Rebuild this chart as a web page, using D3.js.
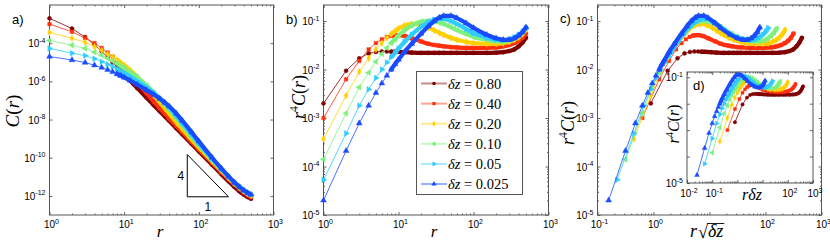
<!DOCTYPE html>
<html>
<head>
<meta charset="utf-8">
<script src="https://cdn.jsdelivr.net/npm/d3@7"></script>
<style>
  body { margin: 0; background: #fff; }
  svg { display: block; }
  .tick-lbl { font-family: "Liberation Sans", Arial, sans-serif; font-size: 10px; fill: #000; }
  .math { font-family: "Liberation Serif", "DejaVu Serif", serif; fill: #000; }
  .panel-lbl { font-family: "Liberation Sans", Arial, sans-serif; font-size: 13px; fill: #000; }
</style>
</head>
<body>
<svg id="fig" width="830" height="244"></svg>
<script>
/************************* Data *************************/
const DZ        = [0.80, 0.40, 0.20, 0.10, 0.05, 0.025];
const DZ_LABELS = ["0.80", "0.40", "0.20", "0.10", "0.05", "0.025"];
const COLORS    = ["#800000", "#ff3010", "#ffd000", "#7ff07f", "#30ccff", "#1a4cff"];
const MARKERS   = ["circle", "square", "diamond", "left", "right", "up"];

const R = [1, 2, 3, 4, 5, 6, 7, 8, 9, 10, 12, 15, 20, 25, 30, 35, 40, 50, 60, 80,
           100, 150, 200, 250, 300, 350, 400, 450, 500];

// r^4 C(r), one list per dz
const R4C_080  = [2.0e-3, 9.4e-3, 0.017, 0.0215, 0.023, 0.0235, 0.0235, 0.0233, 0.0232, 0.023,
                  0.0227, 0.0223, 0.022, 0.022, 0.022, 0.022, 0.022, 0.022, 0.022, 0.022,
                  0.022, 0.022, 0.0222, 0.0228, 0.024, 0.026, 0.030, 0.036, 0.045];
const R4C_040  = [1.0e-3, 6.3e-3, 0.015, 0.026, 0.035, 0.042, 0.047, 0.050, 0.051, 0.051,
                  0.049, 0.044, 0.038, 0.034, 0.032, 0.031, 0.030, 0.029, 0.0285, 0.028,
                  0.028, 0.028, 0.0285, 0.030, 0.032, 0.035, 0.039, 0.045, 0.055];
const R4C_020  = [3.7e-4, 2.9e-3, 9.0e-3, 0.017, 0.026, 0.035, 0.045, 0.054, 0.062, 0.070,
                  0.080, 0.087, 0.083, 0.073, 0.064, 0.057, 0.052, 0.045, 0.041, 0.037,
                  0.035, 0.034, 0.034, 0.035, 0.037, 0.041, 0.046, 0.054, 0.066];
const R4C_010  = [1.4e-4, 1.25e-3, 4.3e-3, 8.6e-3, 0.0145, 0.021, 0.028, 0.035, 0.042, 0.050,
                  0.064, 0.081, 0.097, 0.101, 0.098, 0.093, 0.087, 0.075, 0.065, 0.054,
                  0.047, 0.041, 0.038, 0.038, 0.040, 0.044, 0.050, 0.058, 0.070];
const R4C_005  = [5.3e-5, 4.8e-4, 1.8e-3, 3.9e-3, 6.7e-3, 0.010, 0.014, 0.018, 0.022, 0.027,
                  0.037, 0.052, 0.076, 0.094, 0.106, 0.112, 0.111, 0.100, 0.087, 0.068,
                  0.056, 0.045, 0.041, 0.040, 0.042, 0.046, 0.052, 0.060, 0.072];
const R4C_0025 = [2.0e-5, 2.1e-4, 7.8e-4, 1.8e-3, 3.3e-3, 5.2e-3, 7.5e-3, 0.010, 0.013, 0.016,
                  0.023, 0.034, 0.055, 0.078, 0.100, 0.117, 0.127, 0.128, 0.115, 0.090,
                  0.072, 0.052, 0.044, 0.041, 0.041, 0.044, 0.050, 0.059, 0.074];
const R4C = [R4C_080, R4C_040, R4C_020, R4C_010, R4C_005, R4C_0025];

// slope-4 guide triangle in panel a (data coords)
const TRI_R = [70, 250];
const TRI_C = [9e-13, 9e-13 * Math.pow(250 / 70, 4)];

// tick labels (exponents of 10)
const A_XTICKS = [0, 1, 2, 3];
const A_YTICKS = [-12, -10, -8, -6, -4];
const B_XTICKS = [0, 1, 2, 3];
const B_YTICKS = [-5, -4, -3, -2, -1];
const C_XTICKS = [-1, 0, 2, 3];
const C_YTICKS = [-5, -4, -3, -2, -1];
const D_XTICKS = [-2, -1, 2, 3];
const D_YTICKS = [-5, -1];

/************************* Layout *************************/
const TOP = 5, BOTTOM = 215;
const svg = d3.select("#fig");

const ax = {
  a: { x: d3.scaleLog().domain([1, 1e3]).range([49.5, 273.5]),
       y: d3.scaleLog().domain([1e-13, 1e-2]).range([BOTTOM, TOP]) },
  b: { x: d3.scaleLog().domain([1, 1e3]).range([323.5, 548.5]),
       y: d3.scaleLog().domain([1e-5, Math.pow(10, -0.67)]).range([BOTTOM, TOP]) },
  c: { x: d3.scaleLog().domain([0.1, 1e3]).range([597.5, 821.5]),
       y: d3.scaleLog().domain([1e-5, Math.pow(10, -0.67)]).range([BOTTOM, TOP]) },
  d: { x: d3.scaleLog().domain([0.01, 1e3]).range([687, 813]),
       y: d3.scaleLog().domain([1e-5, Math.pow(10, -0.8)]).range([183, 72]) }
};

/************************* Helpers *************************/
function minorTicks(scale) {
  const [lo, hi] = scale.domain().map(Math.log10);
  const out = [];
  for (let e = Math.floor(lo); e < Math.ceil(hi); e++)
    for (let k = 2; k <= 9; k++) {
      const v = k * Math.pow(10, e);
      if (v > scale.domain()[0] && v < scale.domain()[1]) out.push(v);
    }
  return out;
}

function majorTicks(scale) {
  const [lo, hi] = scale.domain().map(Math.log10);
  const out = [];
  for (let e = Math.ceil(lo - 1e-9); e <= Math.floor(hi + 1e-9); e++) out.push(Math.pow(10, e));
  return out;
}

function drawFrame(g, s, opts = {}) {
  const [x0, x1] = s.x.range(), [y1, y0] = s.y.range();
  g.append("rect")
    .attr("x", x0).attr("y", y0)
    .attr("width", x1 - x0).attr("height", y1 - y0)
    .attr("fill", opts.fill || "none");

  const tk = (axis, tx, ty, vals, len) => {
    const a = g.append("g").attr("transform", `translate(${tx},${ty})`)
      .call(axis.tickValues(vals).tickSize(-len).tickFormat(() => ""));
    a.select(".domain").remove();
    a.selectAll("line").attr("stroke", "#222").attr("stroke-width", 0.7);
  };
  const yMajor = opts.yMajor || majorTicks(s.y);
  const yMinor = opts.yMinor || minorTicks(s.y);
  tk(d3.axisBottom(s.x), 0, y1, majorTicks(s.x), 3);
  tk(d3.axisTop(s.x),    0, y0, majorTicks(s.x), 3);
  tk(d3.axisBottom(s.x), 0, y1, minorTicks(s.x), 1.5);
  tk(d3.axisTop(s.x),    0, y0, minorTicks(s.x), 1.5);
  tk(d3.axisLeft(s.y),  x0, 0, yMajor, 3);
  tk(d3.axisRight(s.y), x1, 0, yMajor, 3);
  tk(d3.axisLeft(s.y),  x0, 0, yMinor, 1.5);
  tk(d3.axisRight(s.y), x1, 0, yMinor, 1.5);

  g.append("rect")
    .attr("x", x0).attr("y", y0)
    .attr("width", x1 - x0).attr("height", y1 - y0)
    .attr("fill", "none").attr("stroke", "#555").attr("stroke-width", 1);
}

function powLabel(g, e, x, y, anchor, size = 10) {
  const t = g.append("text").attr("class", "tick-lbl")
    .attr("x", x).attr("y", y).attr("text-anchor", anchor)
    .style("font-size", size + "px");
  t.append("tspan").text("10");
  t.append("tspan").attr("dy", -size * 0.45).style("font-size", (size * 0.7) + "px").text(String(e));
}

function tickLabels(g, s, xExp, yExp, opts = {}) {
  const [x0] = s.x.range(), [y1] = s.y.range();
  const xb = opts.xBase || y1 + 13;
  xExp.forEach(e => powLabel(g, e, s.x(Math.pow(10, e)) + 2, xb, "middle", opts.size));
  yExp.forEach(e => powLabel(g, e, x0 - 4, s.y(Math.pow(10, e)) + 4, "end", opts.size));
}

function marker(type, size) {
  const shapes = {
    circle:  [d3.symbolCircle, 0],
    square:  [d3.symbolSquare, 0],
    diamond: [d3.symbolDiamond, 0],
    up:      [d3.symbolTriangle, 0],
    left:    [d3.symbolTriangle, -90],
    right:   [d3.symbolTriangle, 90]
  };
  const [sym, rot] = shapes[type];
  const area = { circle: 13, square: 13, diamond: 13, up: 15, left: 15, right: 15 }[type] * size;
  return { d: d3.symbol().type(sym).size(area)(), rot };
}

function drawSeries(g, s, xs, ys, i, msize = 1) {
  const pts = xs.map((xv, k) => [s.x(xv), s.y(ys[k])]);
  const color = COLORS[i];
  const grp = g.append("g");

  // thin connecting line
  grp.append("path")
    .attr("d", d3.line()(pts))
    .attr("fill", "none").attr("stroke", color)
    .attr("stroke-width", 0.8);

  // markers sit at every integer r in the original: beyond r ~ 8 they merge into a band
  const dense = pts.filter((p, k) => R[k] >= 8);
  grp.append("path")
    .attr("d", d3.line().curve(d3.curveMonotoneX)(dense))
    .attr("fill", "none").attr("stroke", color)
    .attr("stroke-width", 4.2 * Math.sqrt(msize))
    .attr("stroke-linecap", "round").attr("stroke-linejoin", "round");

  const m = marker(MARKERS[i], msize);
  grp.selectAll("path.mk").data(pts).join("path")
    .attr("class", "mk")
    .attr("d", m.d)
    .attr("transform", p => `translate(${p[0]},${p[1]}) rotate(${m.rot})`)
    .attr("fill", color).attr("stroke", color).attr("stroke-width", 0.4);
}

function mathLabel(g, x, y, parts, size, rotate) {
  const t = g.append("text").attr("class", "math")
    .attr("text-anchor", "middle")
    .style("font-size", size + "px")
    .attr("transform", `translate(${x},${y})` + (rotate ? " rotate(-90)" : ""));
  parts.forEach(([txt, italic, sup]) => {
    const sp = t.append("tspan").text(txt)
      .style("font-style", italic ? "italic" : "normal");
    if (sup) sp.attr("dy", -size * 0.4).style("font-size", (size * 0.65) + "px");
    else if (sp.node().previousSibling && sp.node().previousSibling.__sup) sp.attr("dy", size * 0.4);
    sp.node().__sup = !!sup;
  });
  return t;
}

const R4C_LABEL = [["r", true], ["4", false, true], ["C", true], ["(", false], ["r", true], [")", false]];

/************************* Panel a *************************/
const ga = svg.append("g");
drawFrame(ga, ax.a, { yMajor: A_YTICKS.map(e => Math.pow(10, e)), yMinor: [] });
R4C.forEach((vals, i) => drawSeries(ga, ax.a, R, vals.map((v, k) => v / Math.pow(R[k], 4)), i));
ga.append("path")
  .attr("d", d3.line()([
    [ax.a.x(TRI_R[0]), ax.a.y(TRI_C[1])],
    [ax.a.x(TRI_R[0]), ax.a.y(TRI_C[0])],
    [ax.a.x(TRI_R[1]), ax.a.y(TRI_C[0])]]) + "Z")
  .attr("fill", "none").attr("stroke", "#000").attr("stroke-width", 1);
ga.append("text").attr("class", "panel-lbl").style("font-size", "12px")
  .attr("x", ax.a.x(TRI_R[0]) - 3).attr("y", (ax.a.y(TRI_C[0]) + ax.a.y(TRI_C[1])) / 2 + 4)
  .attr("text-anchor", "end").text("4");
ga.append("text").attr("class", "panel-lbl").style("font-size", "12px")
  .attr("x", (ax.a.x(TRI_R[0]) + ax.a.x(TRI_R[1])) / 2).attr("y", ax.a.y(TRI_C[0]) + 14)
  .attr("text-anchor", "middle").text("1");
tickLabels(ga, ax.a, A_XTICKS, A_YTICKS);
mathLabel(ga, 19, 111, [["C", true], ["(", false], ["r", true], [")", false]], 19, true);
mathLabel(ga, 160, 237, [["r", true]], 17, false);
ga.append("text").attr("class", "panel-lbl").attr("x", 12).attr("y", 24).text("a)");

/************************* Panel b *************************/
const gb = svg.append("g");
drawFrame(gb, ax.b);
R4C.forEach((vals, i) => drawSeries(gb, ax.b, R, vals, i));
tickLabels(gb, ax.b, B_XTICKS, B_YTICKS);
mathLabel(gb, 305, 97, R4C_LABEL, 18, true);
mathLabel(gb, 434, 237, [["r", true]], 17, false);
gb.append("text").attr("class", "panel-lbl").attr("x", 286).attr("y", 24).text("b)");

// legend
const lg = gb.append("g");
lg.append("rect").attr("x", 416.5).attr("y", 71.5).attr("width", 106).attr("height", 123)
  .attr("fill", "#fff").attr("stroke", "#555").attr("stroke-width", 1);
DZ_LABELS.forEach((lbl, i) => {
  const yy = 83.5 + i * 20.1;
  lg.append("line").attr("x1", 421).attr("x2", 447).attr("y1", yy).attr("y2", yy)
    .attr("stroke", COLORS[i]).attr("stroke-opacity", 0.45).attr("stroke-width", 2);
  const m = marker(MARKERS[i], 0.8);
  lg.append("path").attr("d", m.d)
    .attr("transform", `translate(434,${yy}) rotate(${m.rot})`)
    .attr("fill", COLORS[i]);
  const t = lg.append("text").attr("class", "math").style("font-size", "14.5px")
    .attr("x", 448).attr("y", yy + 5);
  t.append("tspan").style("font-style", "italic").text("δz");
  t.append("tspan").text(" = " + lbl);
});

/************************* Panel c *************************/
const gc = svg.append("g");
drawFrame(gc, ax.c);
R4C.forEach((vals, i) => drawSeries(gc, ax.c, R.map(r => r * Math.sqrt(DZ[i])), vals, i));
tickLabels(gc, ax.c, C_XTICKS, C_YTICKS);
mathLabel(gc, 574, 123, R4C_LABEL, 18, true);
gc.append("text").attr("class", "panel-lbl").attr("x", 560).attr("y", 23).text("c)");

// x label r sqrt(dz), drawn with a radical and a bar
const xl = gc.append("g");
const xr = xl.append("text").attr("class", "math").style("font-size", "18px").style("font-style", "italic")
  .attr("x", 690).attr("y", 237).text("r");
const rw = xr.node().getComputedTextLength();
const xs = xl.append("text").attr("class", "math").style("font-size", "18px")
  .attr("x", 690 + rw + 1).attr("y", 238).text("√");
const sw = xs.node().getComputedTextLength();
const xd = xl.append("text").attr("class", "math").style("font-size", "18px").style("font-style", "italic")
  .attr("x", 690 + rw + 1 + sw).attr("y", 237).text("δz");
const dw = xd.node().getComputedTextLength();
xl.append("line").attr("x1", 690 + rw + sw).attr("x2", 690 + rw + 2 + sw + dw)
  .attr("y1", 223.5).attr("y2", 223.5).attr("stroke", "#000").attr("stroke-width", 0.9);

/************************* Inset d *************************/
const gd = svg.append("g");
drawFrame(gd, ax.d, { fill: "#fff", yMajor: majorTicks(ax.d.y), yMinor: [] });
R4C.forEach((vals, i) => drawSeries(gd, ax.d, R.map(r => r * DZ[i]), vals, i, 0.7));
tickLabels(gd, ax.d, D_XTICKS, D_YTICKS, { xBase: 197 });
mathLabel(gd, 679, 124, R4C_LABEL, 16, true);
mathLabel(gd, 752, 200, [["r", true], ["δz", true]], 16, false);
gd.append("text").attr("class", "panel-lbl").attr("x", 693).attr("y", 90).text("d)");
</script>
</body>
</html>
